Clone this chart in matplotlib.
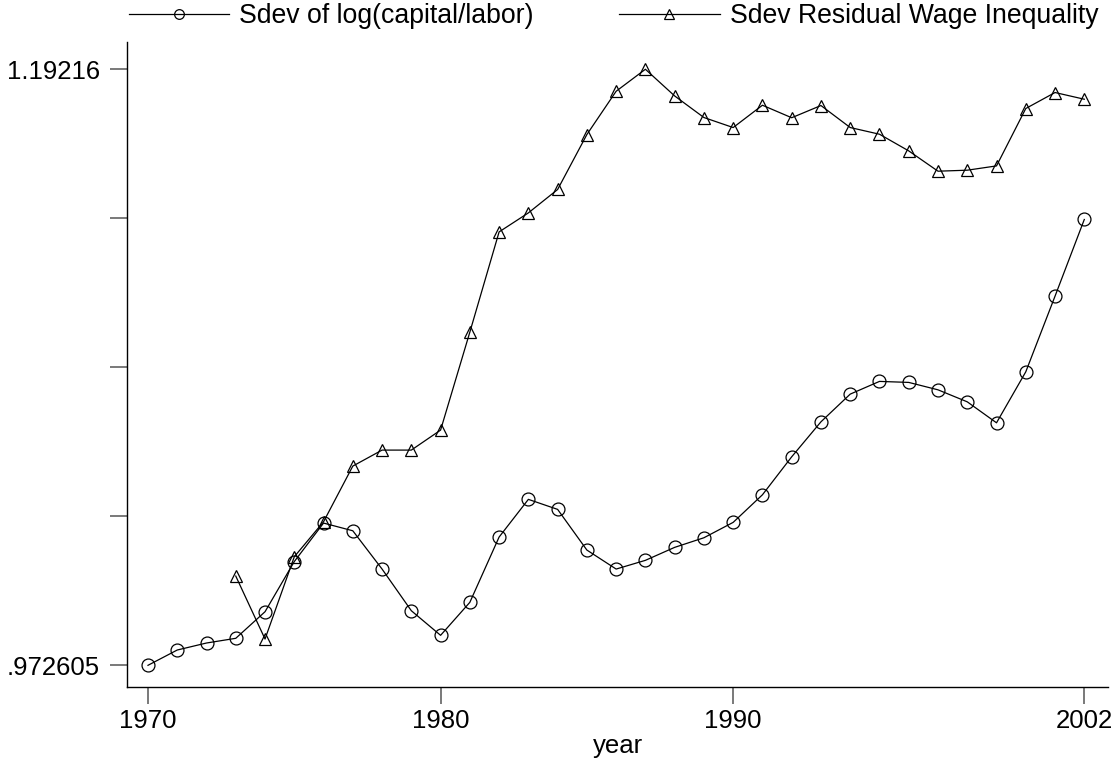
import matplotlib
matplotlib.use("Agg")
import matplotlib.pyplot as plt

plt.rcParams['font.family'] = ['Liberation Sans', 'DejaVu Sans']

# data
years_k = list(range(1970, 2003))
sdev_klab = [0.972605, 0.97824, 0.98082, 0.98255, 0.99234, 1.01082, 1.02500,
             1.02216, 1.00806, 0.99271, 0.98365, 0.99580, 1.01985, 1.03373,
             1.03004, 1.01506, 1.00806, 1.01127, 1.01605, 1.01959, 1.02526,
             1.03542, 1.04941, 1.06230, 1.07250, 1.07718, 1.07681, 1.07408,
             1.06966, 1.06193, 1.08071, 1.10858, 1.13682]

years_w = list(range(1973, 2003))
sdev_wage = [1.00548, 0.98229, 1.01259, 1.02548, 1.04599, 1.05188, 1.05188,
             1.05924, 1.09533, 1.13225, 1.13925, 1.14787, 1.16812, 1.18406,
             1.19216, 1.18233, 1.17438, 1.17069, 1.17891, 1.17430, 1.17880,
             1.17069, 1.16823, 1.16209, 1.15461, 1.15498, 1.15656, 1.17770,
             1.18359, 1.18112]

xticks = [1970, 1980, 1990, 2002]
ymin, ymax = 0.972605, 1.19216
yticks = [ymin + k * (ymax - ymin) / 4 for k in range(5)]
ylabels = ['.972605', '', '', '', '1.19216']

fig = plt.figure(figsize=(11.16, 7.6), dpi=100)
ax = fig.add_axes([127.3 / 1116, (760 - 687.3) / 760,
                   (1107.7 - 127.3) / 1116, (687.3 - 42) / 760])

ax.plot(years_k, sdev_klab, color='black', lw=0.9, marker='o', ms=9.3,
        mfc='none', mec='black', mew=0.9, label='Sdev of log(capital/labor)')
ax.plot(years_w, sdev_wage, color='black', lw=0.9, marker='^', ms=9.3,
        mfc='none', mec='black', mew=0.9, label='Sdev Residual Wage Inequality')

ax.set_xlim(1969.293, 2002.8)
ax.set_ylim(0.964505, 1.2022)
ax.set_xticks(xticks)
ax.set_yticks(yticks)
ax.set_yticklabels(ylabels)
ax.tick_params(length=12.5, width=1.3, color='#6e6e6e', labelsize=18.5)
ax.tick_params(axis='x', pad=3)
ax.tick_params(axis='y', pad=7)
ax.set_xlabel('year', fontsize=18.5, labelpad=1)

for s in ['top', 'right']:
    ax.spines[s].set_visible(False)
for s in ['left', 'bottom']:
    ax.spines[s].set_linewidth(1.0)

h, l = ax.get_legend_handles_labels()
leg = fig.legend(h, l, ncol=2, loc='center', bbox_to_anchor=(0.5497, 1 - 16 / 760),
                 frameon=False, fontsize=19.2, handlelength=3.78, columnspacing=3.2,
                 handletextpad=0.37, markerscale=0.75, borderpad=0)

fig.savefig('out.png', dpi=100)
